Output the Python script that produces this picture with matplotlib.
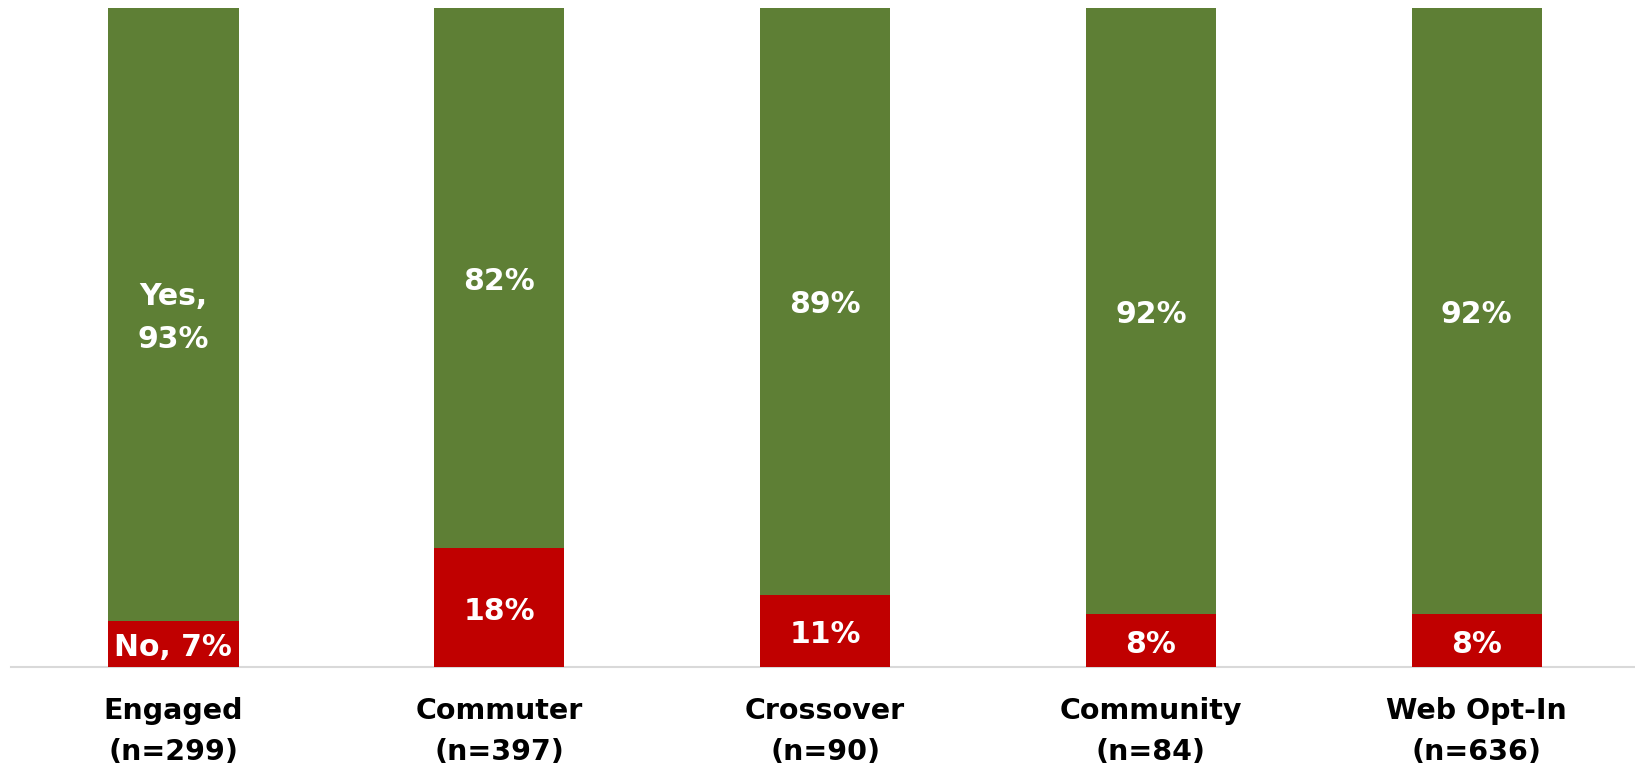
import matplotlib
matplotlib.use("Agg")
import matplotlib.pyplot as plt
import numpy as np

categories = ["Engaged", "Commuter", "Crossover", "Community", "Web Opt-In"]
sample_sizes = ["(n=299)", "(n=397)", "(n=90)", "(n=84)", "(n=636)"]
no_pct = [7, 18, 11, 8, 8]
yes_pct = [93, 82, 89, 92, 92]

GREEN = "#5E7F35"
RED = "#C00000"

W, H = 1635, 766
fig = plt.figure(figsize=(W / 100, H / 100), dpi=100)
# axes: left edge at x=10.5px, bottom at y=667px from top, top at y=8px
ax = fig.add_axes([10.5 / W, (H - 667) / H, 1629.2 / W, 659 / H])

x = np.arange(len(categories))
width = 0.4
ax.bar(x, no_pct, width, color=RED, zorder=2, linewidth=0)
ax.bar(x, yes_pct, width, bottom=no_pct, color=GREEN, zorder=2, linewidth=0)

ax.set_xlim(-0.5, len(categories) - 0.5)
ax.set_ylim(0, 100)
for s in ["top", "left", "right"]:
    ax.spines[s].set_visible(False)
ax.spines["bottom"].set_color("#D9D9D9")
ax.spines["bottom"].set_linewidth(1.5)
ax.spines["bottom"].set_zorder(1)
ax.set_xticks([])
ax.set_yticks([])

label_kw = dict(color="white", fontsize=21.5, fontweight="bold",
                ha="center", va="center", family="DejaVu Sans",
                textcoords="offset points", xytext=(0, -2.5))
for i in range(len(categories)):
    no_txt = f"No, {no_pct[i]}%" if i == 0 else f"{no_pct[i]}%"
    yes_txt = f"Yes,\n{yes_pct[i]}%" if i == 0 else f"{yes_pct[i]}%"
    ax.annotate(no_txt, (x[i], no_pct[i] / 2), **label_kw)
    ax.annotate(yes_txt, (x[i], no_pct[i] + yes_pct[i] / 2),
                linespacing=1.6, **label_kw)

trans = ax.get_xaxis_transform()
cat_kw = dict(color="black", fontsize=20.5, fontweight="bold",
              ha="center", va="baseline", family="DejaVu Sans", transform=trans)
for i in range(len(categories)):
    ax.text(x[i], -52 / 659, categories[i], **cat_kw)
    ax.text(x[i], -93 / 659, sample_sizes[i], **cat_kw)

fig.savefig("out.png", dpi=100)
